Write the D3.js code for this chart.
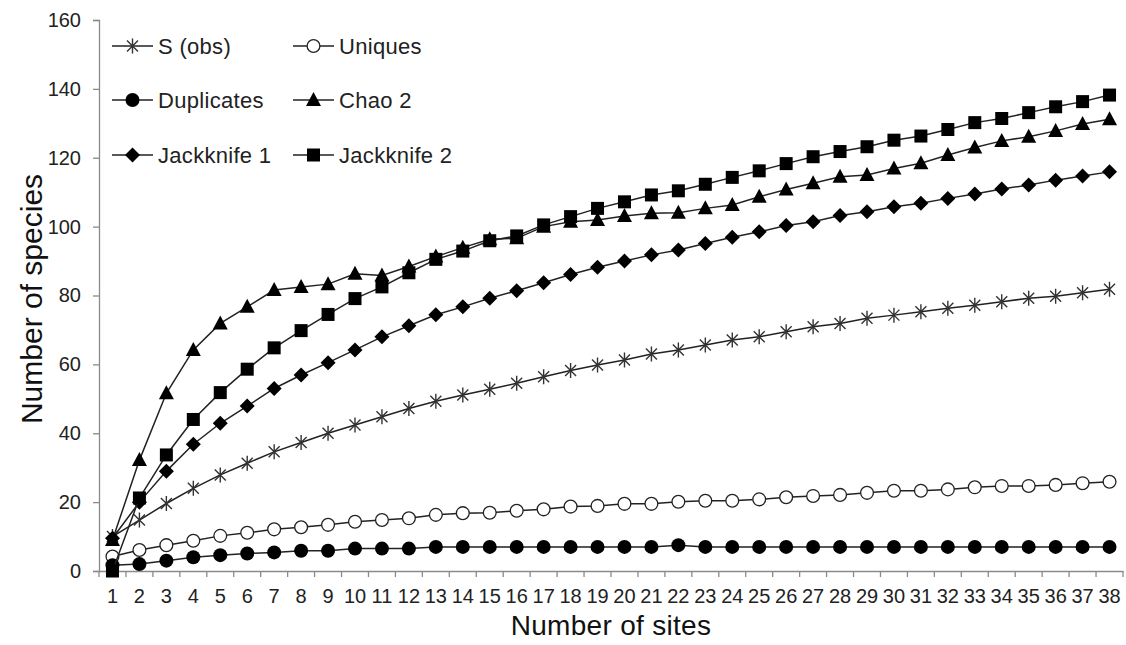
<!DOCTYPE html>
<html>
<head>
<meta charset="utf-8">
<script src="https://cdn.jsdelivr.net/npm/d3@7"></script>
<style>
  body { margin: 0; background: white; }
  text { font-family: "Liberation Sans", Arial, sans-serif; }
</style>
</head>
<body>
<div id="chart"></div>
<script>
// Categories (site count) and y tick labels
const sites = [1, 2, 3, 4, 5, 6, 7, 8, 9, 10, 11, 12, 13, 14, 15, 16, 17, 18, 19,
               20, 21, 22, 23, 24, 25, 26, 27, 28, 29, 30, 31, 32, 33, 34, 35, 36, 37, 38];
const yTicks = [0, 20, 40, 60, 80, 100, 120, 140, 160];

// Series values
const sObs = [10, 14.8, 19.6, 24.0, 27.9, 31.3, 34.6, 37.3, 40.0, 42.4, 44.8, 47.2, 49.3, 51.1, 52.8,
              54.5, 56.4, 58.2, 59.8, 61.3, 63.0, 64.2, 65.6, 67.1, 68.0, 69.5, 70.9, 71.9, 73.4, 74.3,
              75.3, 76.3, 77.2, 78.2, 79.2, 79.8, 80.8, 81.8];
const uniques = [4.2, 6.1, 7.5, 8.8, 10.2, 11.1, 12.1, 12.7, 13.4, 14.3, 14.8, 15.3, 16.3, 16.8, 16.9,
                 17.5, 17.9, 18.7, 18.9, 19.5, 19.5, 20.1, 20.4, 20.4, 20.8, 21.4, 21.8, 22.1, 22.7, 23.3,
                 23.3, 23.7, 24.3, 24.7, 24.7, 25.0, 25.5, 25.9];
const duplicates = [1.7, 2.0, 3.0, 4.0, 4.6, 5.1, 5.4, 5.9, 5.9, 6.5, 6.5, 6.5, 7.0, 7.0, 7.0,
                    7.0, 7.0, 7.0, 7.0, 7.0, 7.0, 7.5, 7.0, 7.0, 7.0, 7.0, 7.0, 7.0, 7.0, 7.0,
                    7.0, 7.0, 7.0, 7.0, 7.0, 7.0, 7.0, 7.0];
const chao2 = [9.0, 32.2, 51.6, 64.2, 71.9, 76.7, 81.6, 82.5, 83.3, 86.3, 85.8, 88.4, 91.3, 93.9, 96.3,
               96.6, 100.0, 101.4, 101.9, 103.1, 103.9, 104.0, 105.3, 106.3, 108.7, 110.8, 112.6, 114.5, 115.0, 116.9,
               118.4, 120.8, 123.0, 124.9, 126.1, 127.8, 129.8, 131.2];
const jack1 = [9.5, 20.0, 29.0, 36.8, 42.9, 47.9, 53.0, 56.9, 60.5, 64.2, 68.0, 71.2, 74.4, 76.7, 79.2,
               81.4, 83.7, 86.1, 88.2, 90.0, 91.8, 93.2, 95.1, 96.9, 98.5, 100.3, 101.4, 103.2, 104.3, 105.8,
               106.8, 108.2, 109.5, 110.9, 112.1, 113.5, 114.7, 115.9];
const jack2 = [0, 21.2, 33.7, 44.0, 51.8, 58.6, 64.8, 69.8, 74.5, 79.1, 82.5, 86.6, 90.5, 92.9, 95.9,
               97.3, 100.5, 102.9, 105.3, 107.2, 109.2, 110.4, 112.3, 114.3, 116.2, 118.3, 120.3, 121.8, 123.2, 125.1,
               126.3, 128.2, 130.2, 131.4, 133.1, 134.8, 136.3, 138.2];

const seriesNames = ['S (obs)', 'Uniques', 'Duplicates', 'Chao 2', 'Jackknife 1', 'Jackknife 2'];
const seriesValues = [sObs, uniques, duplicates, chao2, jack1, jack2];
const seriesMarks = ['star', 'open', 'dot', 'tri', 'diamond', 'square'];

let width = 1126,
    height = 645;

let margin = {top: 20, right: 3, bottom: 74, left: 99};

let svg = d3.select('#chart')
            .append('svg')
            .attr('width', width)
            .attr('height', height)
            .style('background', 'white');

let xScale = d3.scaleBand()
            .domain(sites)
            .range([margin.left, width - margin.right])
            .padding(0);

let yScale = d3.scaleLinear()
            .domain([0, 160])
            .range([height - margin.bottom, margin.top]);

const axisColor = '#8a8a8a';

// y axis
let yAxis = svg.append('g')
            .attr('transform', `translate(${margin.left},0)`)
            .call(d3.axisLeft(yScale).tickValues(yTicks).tickSize(6).tickPadding(12));
yAxis.select('.domain').attr('stroke', axisColor).attr('stroke-width', 1.3);
yAxis.selectAll('.tick line').attr('stroke', axisColor).attr('stroke-width', 1.3);
yAxis.selectAll('.tick text')
     .style('font-size', '20px')
     .attr('fill', '#222');

// x axis: labels centred in bands, ticks between categories
let xAxis = svg.append('g')
            .attr('transform', `translate(0,${yScale(0)})`)
            .call(d3.axisBottom(xScale).tickSize(0).tickPadding(18));
xAxis.select('.domain').attr('stroke', axisColor).attr('stroke-width', 1.3);
xAxis.selectAll('.tick text')
     .style('font-size', '20px')
     .attr('fill', '#222');

let bounds = sites.map(d => xScale(d)).concat([xScale(sites[sites.length - 1]) + xScale.bandwidth()]);
xAxis.selectAll('.sep')
     .data(bounds)
     .enter()
     .append('line')
     .attr('class', 'sep')
     .attr('x1', d => d)
     .attr('x2', d => d)
     .attr('y1', 0)
     .attr('y2', 6)
     .attr('stroke', axisColor)
     .attr('stroke-width', 1.3);

// axis titles
svg.append('text')
    .attr('x', 611)
    .attr('y', 635)
    .text('Number of sites')
    .style('font-size', '28px')
    .style('letter-spacing', '0.3px')
    .style('text-anchor', 'middle')
    .attr('fill', '#111');

svg.append('text')
    .attr('x', -299)
    .attr('y', 42)
    .text('Number of species')
    .style('font-size', '30px')
    .style('text-anchor', 'middle')
    .attr('fill', '#111')
    .attr('transform', 'rotate(-90)');

// marker drawing
function drawMarker(g, kind) {
    if (kind === 'star') {
        const r = 7.5, k = 5.5;
        g.append('path')
         .attr('d', `M0,${-r}V${r}M${-k},${-k}L${k},${k}M${-k},${k}L${k},${-k}`)
         .attr('stroke', '#333')
         .attr('stroke-width', 1.4)
         .attr('fill', 'none');
    } else if (kind === 'open') {
        g.append('circle').attr('r', 6.4).attr('fill', 'white').attr('stroke', '#222').attr('stroke-width', 1.3);
    } else if (kind === 'dot') {
        g.append('circle').attr('r', 7).attr('fill', '#000');
    } else if (kind === 'tri') {
        g.append('path').attr('d', 'M0,-8L7.5,6L-7.5,6Z').attr('fill', '#000');
    } else if (kind === 'diamond') {
        g.append('path').attr('d', 'M0,-7.5L7.5,0L0,7.5L-7.5,0Z').attr('fill', '#000');
    } else if (kind === 'square') {
        g.append('rect').attr('x', -6.5).attr('y', -6.5).attr('width', 13).attr('height', 13).attr('fill', '#000');
    }
}

const line = d3.line()
               .x((d, i) => xScale(sites[i]) + xScale.bandwidth() / 2)
               .y(d => yScale(d));

// series lines and markers
seriesValues.forEach(function(vals, s) {
    svg.append('path')
       .datum(vals)
       .attr('d', line)
       .attr('fill', 'none')
       .attr('stroke', '#222')
       .attr('stroke-width', 1.5);

    svg.append('g')
       .selectAll('g')
       .data(vals)
       .enter()
       .append('g')
       .attr('transform', (d, i) => `translate(${xScale(sites[i]) + xScale.bandwidth() / 2},${yScale(d)})`)
       .each(function() { drawMarker(d3.select(this), seriesMarks[s]); });
});

// legend: two columns, three rows
const legendCols = [112, 293];
const legendRows = [46, 100, 155];

const legend = svg.selectAll('.legend')
                  .data(seriesNames)
                  .enter()
                  .append('g')
                  .attr('class', 'legend')
                  .attr('transform', (d, i) => `translate(${legendCols[i % 2]},${legendRows[Math.floor(i / 2)]})`);

legend.append('line')
      .attr('x1', 0)
      .attr('x2', 41)
      .attr('y1', 0)
      .attr('y2', 0)
      .attr('stroke', '#222')
      .attr('stroke-width', 1.5);

legend.append('g')
      .attr('transform', 'translate(20.5,0)')
      .each(function(d, i) { drawMarker(d3.select(this), seriesMarks[i]); });

legend.append('text')
      .attr('x', 46)
      .attr('y', 8)
      .text(d => d)
      .style('font-size', '22px')
      .style('letter-spacing', '0.3px')
      .attr('fill', '#222');
</script>
</body>
</html>
